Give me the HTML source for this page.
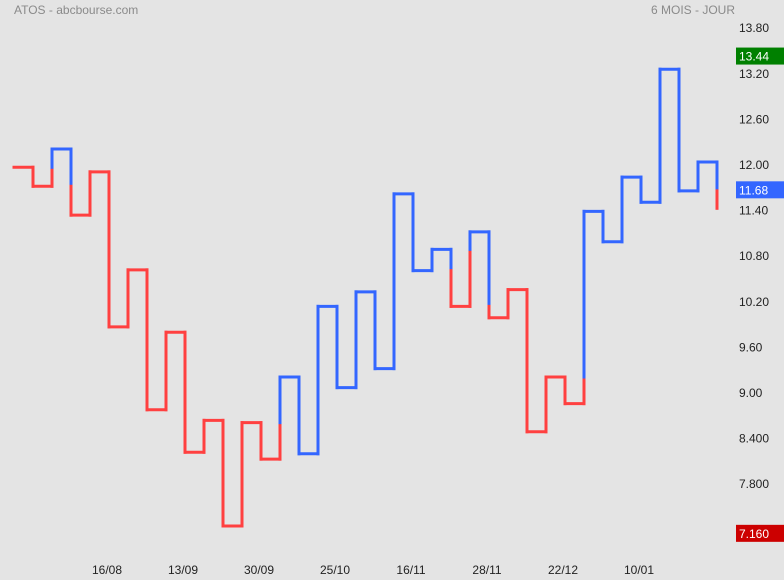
<!DOCTYPE html>
<html><head><meta charset="utf-8"><style>
html,body{margin:0;padding:0;background:#e4e4e4;}
svg{display:block;font-family:"Liberation Sans",sans-serif;}
</style></head><body>
<svg id="chart" width="784" height="580" viewBox="0 0 784 580">
<rect width="784" height="580" fill="#e4e4e4"/>
<text x="14" y="14" font-size="12" fill="#8a8a8a">ATOS - abcbourse.com</text>
<text x="735" y="14" font-size="12" fill="#8a8a8a" text-anchor="end">6 MOIS - JOUR</text>
<g id="yaxis"></g>
<g id="xaxis"></g>
<g id="series"></g>
<g id="badges"></g>
</svg>
<script>
const levels=[11.97,11.72,12.21,11.34,11.91,9.87,10.62,8.78,9.80,8.22,8.64,7.25,8.61,8.13,9.21,8.20,10.14,9.07,10.33,9.32,11.62,10.61,10.89,10.14,11.12,9.99,10.36,8.49,9.21,8.86,11.39,10.99,11.84,11.51,13.26,11.66,12.04,11.43];
const yTicks=[13.80,13.20,12.60,12.00,11.40,10.80,10.20,9.60,9.00,8.400,7.800,7.200];
const yTickLabels=["13.80","13.20","12.60","12.00","11.40","10.80","10.20","9.60","9.00","8.400","7.800","7.200"];
const dateLabels=["16/08","13/09","30/09","25/10","16/11","28/11","22/12","10/01"];
const dateIdx=[5,9,13,17,21,25,29,33];
const badgeValues=[13.44,11.68,7.160];
const badgeLabels=["13.44","11.68","7.160"];
const badgeColors=["#008000","#3366ff","#cc0000"];

const NS="http://www.w3.org/2000/svg";
function y(v){return 165+(12-v)*76;}
function x(i){return 14+19*i;}
function mk(tag,attrs,parent){const e=document.createElementNS(NS,tag);for(const k in attrs)e.setAttribute(k,attrs[k]);parent.appendChild(e);return e;}
const RED="#ff4040",BLUE="#3366ff";
const ya=document.getElementById('yaxis');
yTicks.forEach((v,i)=>{const t=mk('text',{x:739,y:y(v)+4,'font-size':12,fill:'#222'},ya);t.textContent=yTickLabels[i];

});
const xa=document.getElementById('xaxis');
dateLabels.forEach((d,i)=>{const t=mk('text',{x:x(dateIdx[i])-2,y:574,'font-size':12,fill:'#222','text-anchor':'middle'},xa);t.textContent=d;

});
const g=document.getElementById('series');
function seg(x1,y1,x2,y2,c){const l=mk('line',{x1:x1,y1:y1,x2:x2,y2:y2,stroke:c,'stroke-width':3,'stroke-linecap':'square'},g);

}
let color=RED,lastHigh=levels[0],lastLow=levels[0];
for(let i=0;i<levels.length;i++){
  const v=levels[i];
  if(i>0){
    const p=levels[i-1],xx=x(i);
    if(v>p){
      if(color===RED&&v>lastHigh){seg(xx,y(p),xx,y(lastHigh),RED);seg(xx,y(lastHigh),xx,y(v),BLUE);color=BLUE;}
      else seg(xx,y(p),xx,y(v),color);
      lastLow=p;
    }else{
      if(color===BLUE&&v<lastLow){seg(xx,y(p),xx,y(lastLow),BLUE);seg(xx,y(lastLow),xx,y(v),RED);color=RED;}
      else seg(xx,y(p),xx,y(v),color);
      lastHigh=p;
    }
  }
  if(i<levels.length-1) seg(x(i),y(v),x(i+1),y(v),color);
}
const b=document.getElementById('badges');
badgeValues.forEach((v,i)=>{let yy=Math.min(y(v),537);
const r=mk('rect',{x:736,y:yy-8,width:48,height:17,fill:badgeColors[i]},b);


const t=mk('text',{x:739,y:yy+5,'font-size':12,fill:'#fff'},b);t.textContent=badgeLabels[i];

});
</script>
</body></html>
